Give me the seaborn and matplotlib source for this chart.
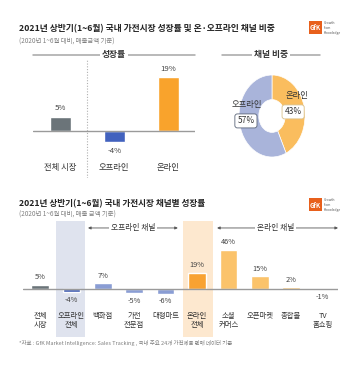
"""GfK 2021 H1 home appliance market growth by channel."""

import matplotlib
matplotlib.use("Agg")
import matplotlib.pyplot as plt
from matplotlib.lines import Line2D
from matplotlib.patches import Rectangle
import seaborn as sns
import pandas as pd

# --- data -------------------------------------------------------------
top_categories = ["전체 시장", "오프라인", "온라인"]
top_growth = [5, -4, 19]
top_colors = ["#6b7479", "#4262be", "#f9a32c"]

share_labels = ["온라인", "오프라인"]
share_values = [43, 57]
share_colors = ["#fabd5e", "#a9b4da"]

bottom_categories = ["전체\n시장", "오프라인\n전체", "백화점", "가전\n전문점", "대형마트",
                     "온라인\n전체", "소셜\n커머스", "오픈마켓", "종합몰", "TV\n홈쇼핑"]
bottom_growth = [5, -4, 7, -5, -6, 19, 46, 15, 2, -1]
bottom_colors = ["#6b7479", "#3d5ab1", "#8a9dd4", "#8a9dd4", "#8a9dd4",
                 "#f8a232", "#fbc36b", "#fbc36b", "#fbc36b", "#fbc36b"]

W, H = 360, 365
TXT = "#333333"
GRAY = "#7f7f7f"

sns.set_theme(style="white")
plt.rcParams["font.family"] = ["Noto Sans CJK KR", "DejaVu Sans"]
plt.rcParams["axes.unicode_minus"] = False

fig = plt.figure(figsize=(W / 100, H / 100), dpi=100)
fig.patch.set_facecolor("white")


def fx(p):
    return p / W


def fy(p):
    return 1 - p / H


def add_axes_px(x0, y0, x1, y1):
    return fig.add_axes([fx(x0), fy(y1), (x1 - x0) / W, (y1 - y0) / H])


def header(x0, x1, y, label):
    fig.add_artist(Line2D([fx(x0), fx(x1)], [fy(y), fy(y)], color="#a6a6a6", lw=1.1,
                          transform=fig.transFigure))
    fig.text(fx((x0 + x1) / 2), fy(y), label, ha="center", va="center", fontsize=6.3,
             fontweight="bold", color=TXT,
             bbox=dict(facecolor="white", edgecolor="none", pad=1.5))


def logo(x, y):
    fig.add_artist(Rectangle((fx(x), fy(y + 13)), 13 / W, 13 / H, facecolor="#e8601c",
                             edgecolor="none", transform=fig.transFigure))
    fig.text(fx(x + 6.5), fy(y + 7), "GfK", ha="center", va="center", fontsize=4.5,
             color="white", fontweight="bold")
    fig.text(fx(x + 15), fy(y + 7), "Growth\nfrom\nKnowledge", ha="left", va="center",
             fontsize=2.4, color="#555555", linespacing=1.3)


# --- top titles -------------------------------------------------------
fig.text(fx(19), fy(29), "2021년 상반기(1~6월) 국내 가전시장 성장률 및 온·오프라인 채널 비중",
         ha="left", va="center", fontsize=6.3, fontweight="bold", color="#222222")
fig.text(fx(19), fy(42), "(2020년 1~6월 대비, 매출금액 기준)", ha="left", va="center",
         fontsize=4.6, color=GRAY)
logo(309, 21)
header(33, 195, 55, "성장률")
header(222, 320, 55, "채널 비중")

# --- top bar chart ----------------------------------------------------
ax1 = add_axes_px(33, 58, 195, 178)
top_df = pd.DataFrame({"cat": top_categories, "val": top_growth})
sns.barplot(data=top_df, x="cat", y="val", hue="cat", palette=top_colors,
            order=top_categories, hue_order=top_categories, legend=False,
            width=0.39, saturation=1, ax=ax1)
ax1.set_xlim(-0.51, 2.5)
ax1.set_ylim(-16.5, 25.7)
ax1.axhline(0, color="#9a9a9a", lw=1.0, zorder=3)
ax1.axvline(0.49, ymin=0.0, ymax=0.98, color="#b0b0b0", lw=0.8, ls=(0, (1, 1.5)))
for i, v in enumerate(top_growth):
    if v >= 0:
        ax1.text(i, v + 1.6, f"{v}%", ha="center", va="bottom", fontsize=5.6, color="#444444")
    else:
        ax1.text(i, v - 1.6, f"{v}%", ha="center", va="top", fontsize=5.6, color="#444444")
    ax1.text(i, -12.7, top_categories[i], ha="center", va="center", fontsize=6.0, color=TXT)
ax1.axis("off")

# --- donut ------------------------------------------------------------
ax2 = add_axes_px(239, 75, 305, 157)
ax2.pie(share_values, colors=share_colors, startangle=90, counterclock=False,
        wedgeprops=dict(width=0.6, edgecolor="white", linewidth=0.5))
ax2.set_aspect("auto")
ax2.set_xlim(-1, 1)
ax2.set_ylim(-1, 1)
ax2.text(0.76, 0.51, share_labels[0], ha="center", va="center", fontsize=6.0, color=TXT)
ax2.text(0.64, 0.10, f"{share_values[0]}%", ha="center", va="center", fontsize=6.0, color=TXT,
         bbox=dict(boxstyle="round,pad=0.3", facecolor="white", edgecolor="#d9c08a", lw=0.6))
ax2.text(-0.76, 0.27, share_labels[1], ha="center", va="center", fontsize=6.0, color=TXT)
ax2.text(-0.79, -0.12, f"{share_values[1]}%", ha="center", va="center", fontsize=6.0, color=TXT,
         bbox=dict(boxstyle="round,pad=0.3", facecolor="white", edgecolor="#5a6478", lw=0.6))

# --- bottom titles ----------------------------------------------------
fig.text(fx(19), fy(204), "2021년 상반기(1~6월) 국내 가전시장 채널별 성장률",
         ha="left", va="center", fontsize=6.2, fontweight="bold", color="#222222")
fig.text(fx(19), fy(215), "(2020년 1~6월 대비, 매출 금액 기준)", ha="left", va="center",
         fontsize=4.6, color=GRAY)
logo(309, 198)

# --- bottom bar chart -------------------------------------------------
ax3 = add_axes_px(23, 221, 338, 337)
ax3.axvspan(0.52, 1.43, color="#dfe3ee", lw=0, zorder=0)
ax3.axvspan(4.55, 5.5, color="#fde8cf", lw=0, zorder=0)
bottom_df = pd.DataFrame({"cat": bottom_categories, "val": bottom_growth})
sns.barplot(data=bottom_df, x="cat", y="val", hue="cat", palette=bottom_colors,
            order=bottom_categories, hue_order=bottom_categories, legend=False,
            width=0.56, saturation=1, ax=ax3)
ax3.set_xlim(-0.54, 9.49)
ax3.set_ylim(-56.5, 80)
ax3.axhline(0, color="#9a9a9a", lw=1.0, zorder=3)
for i, v in enumerate(bottom_growth):
    if v >= 0:
        ax3.text(i, v + 4, f"{v}%", ha="center", va="bottom", fontsize=5.3, color="#444444")
    else:
        ax3.text(i, v - 4, f"{v}%", ha="center", va="top", fontsize=5.3, color="#444444")
    ax3.text(i, -27, bottom_categories[i], ha="center", va="top", fontsize=5.3,
             color=TXT, linespacing=1.15)

arrow_kw = dict(arrowstyle="<|-|>", color="#555555", lw=0.6, mutation_scale=4,
                shrinkA=0, shrinkB=0)
ax3.annotate("", xy=(1.53, 71.8), xytext=(4.39, 71.8), arrowprops=arrow_kw)
ax3.annotate("", xy=(5.64, 71.8), xytext=(9.49, 71.8), arrowprops=arrow_kw)
ax3.text(2.96, 71.8, "오프라인 채널", ha="center", va="center", fontsize=5.6, color=TXT,
         bbox=dict(facecolor="white", edgecolor="none", pad=1.5))
ax3.text(7.5, 71.8, "온라인 채널", ha="center", va="center", fontsize=5.6, color=TXT,
         bbox=dict(facecolor="white", edgecolor="none", pad=1.5))
ax3.axis("off")

fig.text(fx(19), fy(343),
         "*자료 : GfK Market Intelligence: Sales Tracking , 국내 주요 24개 가전제품 판매 데이터 기준",
         ha="left", va="center", fontsize=3.95, color=GRAY)

fig.savefig("out.png", dpi=100, facecolor="white")
